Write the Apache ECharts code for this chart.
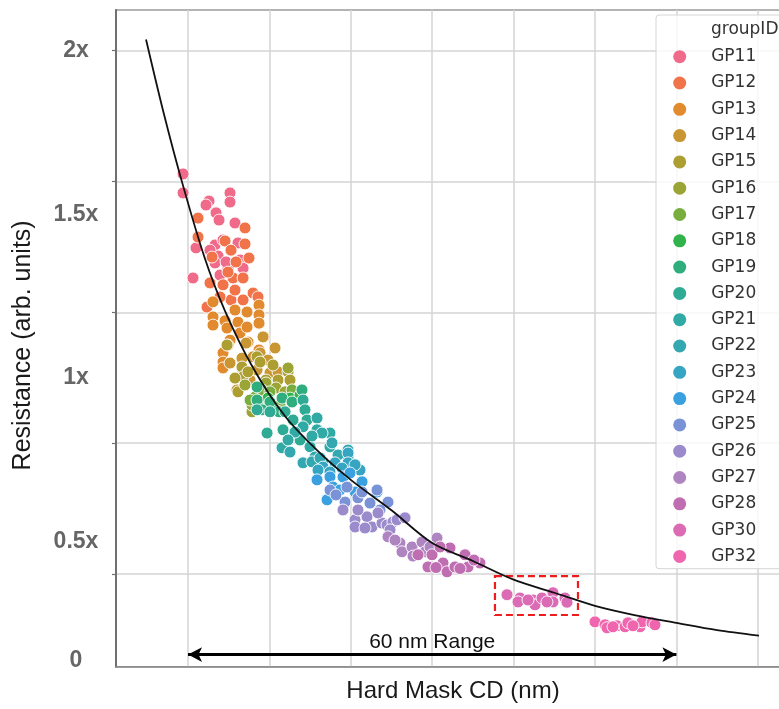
<!DOCTYPE html>
<html>
<head>
<meta charset="utf-8">
<script src="https://cdn.jsdelivr.net/npm/echarts@6/dist/echarts.min.js"></script>
<style>
  html, body { margin: 0; padding: 0; background: #ffffff; overflow: hidden; }
  #chart { width: 790px; height: 709px; }
</style>
</head>
<body>
<div id="chart"></div>
<script>
// Hard mask CD (nm) vs. resistance, one scatter group per lot
const groupNames = ['GP11','GP12','GP13','GP14','GP15','GP16','GP17','GP18','GP19','GP20',
                    'GP21','GP22','GP23','GP24','GP25','GP26','GP27','GP28','GP30','GP32'];
const groupColors = ['#f06a8a','#f0734a','#e28a2e','#c89632','#ad9e32','#9aa535','#79ad3d','#32b24a','#30ad7d','#2fab95',
                     '#31aaa6','#33a8b1','#36a5c2','#3aa0e0','#7a93d6','#9b8bcc','#ae85c0','#c06eb2','#da6bb4','#ef66ae'];

// [CD (nm), resistance]
const gp11 = [[19.39,1.623],[19.39,1.565],[20.61,1.305],[22.58,1.540],[22.21,1.528],[23.44,1.504],[23.81,1.482],[25.16,1.565],
  [25.16,1.537],[25.77,1.473],[20.98,1.397],[23.32,1.406],[23.69,1.372],[23.32,1.351],[23.93,1.314],[24.91,1.335],
  [26.39,1.360],[26.76,1.335],[24.30,1.421],[26.14,1.412],[24.67,1.354],[22.70,1.390]];
const gp12 = [[21.23,1.488],[21.23,1.430],[27.00,1.458],[27.00,1.409],[27.49,1.366],[22.95,1.369],[24.55,1.418],[25.28,1.390],
  [25.53,1.305],[26.76,1.305],[22.70,1.290],[24.30,1.284],[25.28,1.238],[26.76,1.238],[27.99,1.259],[28.60,1.247],
  [25.77,1.268],[22.33,1.216],[23.93,1.247],[24.91,1.323],[25.90,1.354]];
const gp13 = [[23.07,1.232],[23.07,1.186],[23.07,1.161],[28.72,1.222],[28.72,1.192],[28.72,1.167],[24.55,1.174],[24.79,1.152],
  [26.14,1.170],[26.39,1.137],[27.25,1.155],[27.37,1.109],[29.34,1.125],[24.30,1.076],[24.30,1.048],[24.30,1.030],
  [28.72,1.085],[25.77,1.207],[27.25,1.201],[25.16,1.115]];
const gp14 = [[24.91,1.100],[26.63,1.060],[26.63,1.030],[26.02,0.963],[27.99,1.064],[28.48,1.024],[30.07,1.015],[31.06,1.018],
  [30.69,1.091],[29.21,1.125],[28.85,1.076],[27.13,1.106],[25.16,1.045],[29.83,1.054],[27.62,0.993]];
const gp15 = [[24.79,1.100],[26.63,1.033],[26.76,1.003],[26.14,0.957],[28.48,1.064],[28.85,1.048],[30.44,1.039],[31.06,0.993],
  [32.29,1.018],[32.53,0.993],[29.58,0.993],[27.37,1.018],[25.77,0.999]];
const gp16 = [[27.86,0.896],[27.86,0.917],[29.58,0.984],[30.81,0.969],[32.29,1.030],[27.00,0.978],[31.92,0.957],[28.60,0.947]];
const gp17 = [[28.23,0.941],[29.09,0.963],[30.07,0.957],[31.30,0.917],[27.62,0.932],[32.78,0.963]];
const gp18 = [[28.60,0.926],[29.83,0.938],[30.69,0.902],[32.53,0.938],[33.76,0.947]];
const gp19 = [[28.48,0.972],[28.48,0.932],[30.07,0.926],[31.55,0.938],[32.78,0.926],[34.00,0.963],[29.09,0.902],[31.18,0.896]];
const gp20 = [[28.48,0.902],[30.07,0.896],[31.92,0.896],[34.13,0.932],[34.37,0.902],[31.67,0.841],[29.71,0.831],[32.90,0.871],
  [34.62,0.871],[33.76,0.810]];
const gp21 = [[35.85,0.877],[35.85,0.841],[31.55,0.786],[34.99,0.789],[37.44,0.789],[37.44,0.831],[34.13,0.850],[36.46,0.831],
  [33.14,0.834],[35.23,0.822],[32.29,0.810]];
const gp22 = [[34.13,0.740],[35.60,0.758],[37.69,0.801],[39.66,0.779],[39.66,0.758],[36.59,0.743],[35.23,0.743],[36.22,0.755],
  [38.43,0.764],[32.53,0.773]];
const gp23 = [[36.59,0.727],[38.06,0.740],[39.66,0.770],[39.66,0.740],[41.13,0.718],[38.92,0.724],[35.97,0.718],[40.52,0.734],
  [37.44,0.712]];
const gp24 = [[35.85,0.688],[37.44,0.697],[37.81,0.666],[41.38,0.682],[39.04,0.697],[37.08,0.627],[39.90,0.709],[40.52,0.651],
  [43.22,0.651],[38.67,0.657]];
const gp25 = [[37.44,0.657],[39.53,0.666],[43.22,0.657],[39.29,0.620],[40.88,0.633],[42.36,0.617],[44.57,0.620],[43.59,0.596],
  [41.38,0.651],[38.18,0.642]];
const gp26 = [[39.04,0.596],[40.52,0.566],[40.52,0.544],[41.99,0.575],[42.60,0.544],[43.83,0.556],[44.45,0.550],[45.18,0.559],
  [45.68,0.566],[46.66,0.572],[43.34,0.587],[40.88,0.596],[41.74,0.541],[44.82,0.535]];
const gp27 = [[44.57,0.514],[46.04,0.495],[46.29,0.468],[47.52,0.483],[48.75,0.498],[50.59,0.510],[49.12,0.468],[47.64,0.455],
  [45.43,0.504],[49.73,0.483]];
const gp28 = [[48.26,0.459],[49.48,0.422],[51.33,0.434],[51.82,0.407],[52.80,0.422],[52.19,0.480],[54.03,0.459],[54.40,0.422],
  [55.87,0.434],[49.98,0.459],[50.96,0.483],[53.42,0.417],[50.47,0.420],[55.13,0.443]];
const gp30 = [[59.19,0.337],[60.79,0.327],[60.54,0.315],[62.38,0.321],[62.63,0.306],[63.49,0.327],[64.84,0.343],[64.84,0.315],
  [66.31,0.327],[66.56,0.314],[64.10,0.315],[61.77,0.321]];
const gp32 = [[70.00,0.254],[71.23,0.245],[71.47,0.236],[72.70,0.242],[73.69,0.239],[74.05,0.251],[75.53,0.239],[75.77,0.254],
  [77.00,0.251],[77.37,0.245],[74.67,0.242],[72.21,0.239]];

// fitted trend line
const curveX = [14.84, 17, 19.23, 22, 24.55, 28, 32, 36, 40, 45, 50, 55, 60, 65, 70, 75, 80, 85, 90.15];
const curveY = [2.034, 1.81, 1.601, 1.37, 1.204, 1.03, 0.88, 0.775, 0.688, 0.595, 0.495, 0.44, 0.383, 0.343, 0.303, 0.274, 0.251, 0.229, 0.212];

// axes
const xMin = 11.15, xMax = 93.96;
const yMin = 0.117, yMax = 2.124;
const xGridValues = [20, 30, 40, 50, 60, 70, 80, 90];
const yGridValues = [0.4, 0.8, 1.2, 1.6, 2.0];
const yLabelValues = [0.135, 0.5, 1.0, 1.5, 2.0];
const yLabelText = ['0', '0.5x', '1x', '1.5x', '2x'];

// annotations
const rangeStart = 20, rangeEnd = 80, rangeLevel = 0.154;
const boxX = [57.71, 67.91], boxY = [0.275, 0.394];

const groupData = [gp11, gp12, gp13, gp14, gp15, gp16, gp17, gp18, gp19, gp20,
                   gp21, gp22, gp23, gp24, gp25, gp26, gp27, gp28, gp30, gp32];

const chart = echarts.init(document.getElementById('chart'), null, { renderer: 'canvas' });

const scatterSeries = groupNames.map((name, i) => ({
  name: name,
  type: 'scatter',
  data: groupData[i],
  symbol: 'circle',
  symbolSize: 12,
  itemStyle: { color: groupColors[i], borderColor: '#ffffff', borderWidth: 0.9, opacity: 1 },
  z: 2
}));

const trendSeries = {
  name: 'trend',
  type: 'line',
  data: curveX.map((x, i) => [x, curveY[i]]),
  smooth: 0.3,
  showSymbol: false,
  symbol: 'none',
  lineStyle: { color: '#111111', width: 1.8 },
  z: 5,
  silent: true,
  markArea: {
    silent: true,
    itemStyle: { color: 'rgba(0,0,0,0)', borderColor: '#ee1c1c', borderWidth: 2.2, borderType: [7, 4] },
    data: [[{ coord: [boxX[0], boxY[1]] }, { coord: [boxX[1], boxY[0]] }]]
  },
  markLine: {
    silent: true,
    symbol: ['arrow', 'arrow'],
    symbolSize: [11, 14],
    lineStyle: { color: '#000000', width: 2.8, type: 'solid' },
    label: {
      show: true, position: 'middle', formatter: '60 nm Range',
      color: '#111111', fontSize: 21, fontFamily: 'Liberation Sans, Arial, sans-serif', distance: 2
    },
    data: [[{ coord: [rangeStart, rangeLevel] }, { coord: [rangeEnd, rangeLevel] }]]
  }
};

const option = {
  animation: false,
  backgroundColor: '#ffffff',
  grid: {
    left: 116, top: 10, right: 0, bottom: 42.3,
    show: true, backgroundColor: '#ffffff', borderColor: '#9a9a9a', borderWidth: 1.5
  },
  xAxis: {
    type: 'value', min: xMin, max: xMax,
    name: 'Hard Mask CD (nm)', nameLocation: 'middle', nameGap: 13,
    nameTextStyle: { fontSize: 24, color: '#1a1a1a', fontFamily: 'Liberation Sans, Arial, sans-serif', verticalAlign: 'top' },
    axisLine: { show: true, lineStyle: { color: '#8a8a8a', width: 1.5 } },
    axisTick: { show: false, customValues: xGridValues },
    axisLabel: { show: false, customValues: xGridValues },
    splitLine: { show: true, lineStyle: { color: '#d4d4d4', width: 1.5 } }
  },
  yAxis: {
    type: 'value', min: yMin, max: yMax,
    name: 'Resistance (arb. units)', nameLocation: 'middle', nameGap: 80,
    nameTextStyle: { fontSize: 25, color: '#1a1a1a', fontFamily: 'Liberation Sans, Arial, sans-serif', padding: [0, 14, 0, 0] },
    axisLine: { show: true, lineStyle: { color: '#707070', width: 2 } },
    axisTick: { show: true, length: 4, customValues: yGridValues, lineStyle: { color: '#707070', width: 1.2 } },
    axisLabel: {
      show: true, customValues: yLabelValues, margin: 40, align: 'center',
      fontSize: 23, fontWeight: 'bold', color: '#666666', fontFamily: 'Liberation Sans, Arial, sans-serif',
      formatter: function (v) {
        const i = yLabelValues.findIndex(t => Math.abs(t - v) < 1e-6);
        return i >= 0 ? yLabelText[i] : '';
      }
    },
    splitLine: { show: true, lineStyle: { color: '#d4d4d4', width: 1.5 } }
  },
  legend: {
    data: groupNames,
    orient: 'vertical',
    left: 656, top: 15,
    padding: [33.2, 40, 3.8, 17.2],
    itemWidth: 13, itemHeight: 13, itemGap: 9.3,
    icon: 'circle',
    selectedMode: false,
    backgroundColor: 'rgba(255,255,255,0.8)',
    borderColor: '#d6d6d6', borderWidth: 1, borderRadius: 3,
    itemStyle: { borderWidth: 0 },
    textStyle: { fontSize: 17, lineHeight: 17, color: '#333333', fontFamily: 'DejaVu Sans, sans-serif', padding: [0, 0, 0, 20] },
    z: 10
  },
  graphic: [{
    type: 'text', left: 711, top: 21, z: 100,
    style: { text: 'groupID', fontSize: 17, fill: '#333333', fontFamily: 'DejaVu Sans, sans-serif' }
  }],
  series: scatterSeries.concat([trendSeries])
};

chart.setOption(option);
</script>
</body>
</html>
